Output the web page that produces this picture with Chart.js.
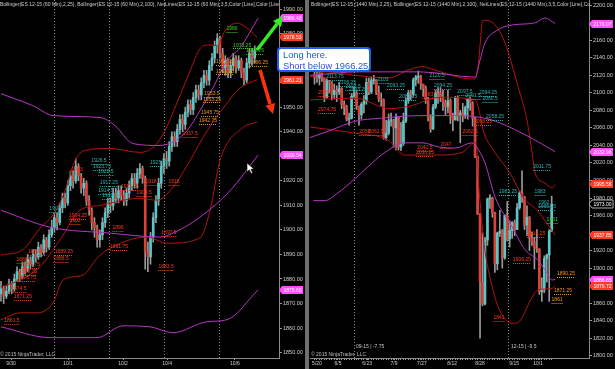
<!DOCTYPE html>
<html>
<head>
<meta charset="utf-8">
<title>ES 12-15 60 Min / 1440 Min</title>
<script src="https://cdn.jsdelivr.net/npm/chart.js@4.4.0/dist/chart.umd.min.js"></script>
<style>
  html, body { margin: 0; padding: 0; background: #000; }
  body { position: relative; width: 615px; height: 369px; overflow: hidden; font-family: "Liberation Sans", Arial, sans-serif; }
  canvas { position: absolute; top: 0; }
  #left { left: 0; }
  #right { left: 308px; }
  #divider { position: absolute; left: 305px; top: 0; width: 4px; height: 369px; background: #6f6f6f; }
  .hdr { position: absolute; top: 1px; width: 279px; overflow: hidden; white-space: nowrap; font-size: 5px; line-height: 6px; color: #cfcfcf; }
  .copy { position: absolute; top: 351px; font-size: 5px; line-height: 6px; color: #bdbdbd; white-space: nowrap; }
  #callout { position: absolute; left: 277px; top: 47px; width: 86px; height: 20px; padding: 1px 0 0 4px; background: #fff; border: 2px solid #1e5bf0; border-radius: 4px; color: #2456dc; font-size: 9.3px; line-height: 10.5px; white-space: nowrap; }
  #marks { position: absolute; left: 0; top: 0; }
</style>
</head>
<body>
<canvas id="left" width="305" height="369"></canvas>
<div id="divider"></div>
<canvas id="right" width="307" height="369"></canvas>

<div class="hdr" style="left:0">Bollinger(ES 12-15 (60 Min),2,25), Bollinger(ES 12-15 (60 Min),2,100), NetLines(ES 12-15 (60 Min),3,5,Color [Line],Color [Line])</div>
<div class="hdr" style="left:311px">Bollinger(ES 12-15 (1440 Min),2,25), Bollinger(ES 12-15 (1440 Min),2,100), NetLines(ES 12-15 (1440 Min),3,5,Color [Line],Color [Line])</div>
<div class="copy" style="left:0">© 2015 NinjaTrader, LLC</div>
<div class="copy" style="left:311px">© 2015 NinjaTrader, LLC</div>

<svg id="marks" width="615" height="369">
  <!-- flechas verde / roja -->
  <line x1="257" y1="50" x2="277" y2="24" stroke="#33ee22" stroke-width="3.5"/>
  <polygon points="283,16 281,27 273,21" fill="#33ee22"/>
  <line x1="260" y1="70" x2="270" y2="104" stroke="#ff3311" stroke-width="3.5"/>
  <polygon points="273,114 275,103 265.4,105.8" fill="#ff3311"/>
  <!-- puntero del ratón -->
  <polygon points="247,163 247,172 249.3,169.8 251,173.5 252.6,172.8 251,169.2 254,169" fill="#fff" stroke="#000" stroke-width="0.6"/>
</svg>
<div id="callout">Long here.<br>Short below 1966.25</div>

<script>
// --- 60 min (panel izquierdo) ---
const leftOpen0 = 1874;
const leftClose = [1876,1873,1875,1878,1876,1880,1883,1881,1885,1884,
  1888,1886,1890,1889,1893,1891,1896,1893,1898,1901,
  1905,1903,1909,1913,1911,1918,1922,1920,1926,1922,
  1917,1919,1912,1908,1903,1901,1896,1898,1903,1907,
  1911,1910,1915,1913,1916,1914,1912,1915,1918,1921,
  1919,1923,1925,1921,1891,1889,1897,1905,1912,1919,
  1926,1929,1928,1934,1938,1936,1941,1945,1943,1948,
  1951,1949,1954,1957,1955,1960,1963,1961,1967,1970,
  1975,1978,1972,1966,1969,1964,1967,1970,1966,1969,
  1964,1961,1968,1972,1970,1973];
const leftHigh = [1879,1877,1877,1880,1879,1882,1885,1884,1887,1887,
  1890,1889,1892,1892,1895,1894,1898,1897,1900,1904,
  1907,1907,1911,1915,1915,1920,1924,1924,1929,1927,
  1923,1921,1920,1914,1909,1905,1902,1900,1905,1909,
  1913,1913,1917,1917,1918,1918,1916,1917,1920,1923,
  1923,1925,1927,1926,1922,1895,1899,1907,1914,1921,
  1928,1931,1932,1936,1940,1940,1943,1947,1947,1950,
  1953,1953,1956,1959,1959,1962,1965,1965,1969,1972,
  1977,1980,1979,1974,1971,1970,1969,1972,1971,1971,
  1970,1966,1970,1974,1974,1975];
const leftLow = [1871,1870,1872,1874,1874,1875,1879,1879,1880,1882,
  1883,1884,1885,1887,1888,1889,1890,1891,1892,1897,
  1899,1900,1902,1907,1909,1910,1916,1917,1919,1920,
  1915,1914,1910,1906,1900,1897,1893,1893,1896,1901,
  1905,1907,1908,1911,1911,1912,1910,1910,1913,1916,
  1917,1917,1921,1919,1884,1883,1886,1895,1903,1910,
  1917,1923,1925,1926,1932,1934,1934,1939,1940,1941,
  1946,1947,1947,1952,1953,1953,1958,1959,1959,1965,
  1968,1972,1970,1964,1963,1962,1962,1965,1964,1965,
  1962,1959,1960,1966,1967,1968];
const leftDateLabels = ['9/30', '10/1', '10/2', '10/4', '10/6'];
const leftDateAt = [3.75, 25.1, 45.7, 62.2, 87.6];
const leftSessionBreaks = [19.85, 40.45, 61.05, 81.65];

// Bollinger(2,25) rojo y Bollinger(2,100) morado, puntos [barra, precio]
const leftRedUpper = [[0,1889.8],[8,1891.8],[14.6,1900.7],[20.2,1907.2],[24,1916],[27.7,1928.3],[31.5,1932.4],[40.8,1933.2],[52.1,1931.6],[57.7,1934.4],[61.4,1940.5],[67,1954.7],[70.8,1964.8],[74.5,1973.8],[78.3,1975.4],[80.9,1975],[83.9,1981.1],[88.4,1984.3],[92.1,1982.3],[95.9,1978.53]];
const leftRedMid = [[0,1876.8],[7.1,1879.6],[14.6,1885],[22.1,1896],[29.6,1908],[37.1,1910],[52.1,1912.9],[58.4,1912.1],[64.4,1917.4],[70.8,1928.3],[77.2,1940.5],[83.9,1950.6],[89.5,1957.9],[95.9,1961.21]];
const leftRedLower = [[0,1863.4],[7.1,1866.2],[13.5,1866.2],[19.5,1870.3],[23.2,1879.6],[30.7,1881.6],[36,1888.5],[39.7,1891.8],[54.7,1897.1],[62.2,1894.6],[74.5,1896.7],[78.3,1908],[82,1928.3],[90.6,1941.7],[95.9,1944]];
const leftPurpleUpper = [[0,1955.5],[12,1950.6],[19.5,1946.6],[37.1,1945.8],[42.7,1942.5],[49.4,1935.2],[59.6,1934.4],[65.2,1936.4],[69.7,1940.5],[74.5,1948.6],[79.4,1957.9],[84.6,1968.9],[89.5,1974.2],[96.3,1986.4]];
const leftPurpleMid = [[0,1908],[18.4,1901.1],[40.8,1898.7],[59.6,1897.1],[65.2,1899.1],[74.5,1905.2],[85.8,1916],[96.3,1930.54]];
const leftPurpleLower = [[0,1860.5],[18.4,1856.1],[36,1856.1],[45.7,1860.9],[55.8,1860.5],[64.4,1858.1],[77.2,1862.6],[84.6,1863.4],[96.3,1875.6]];

// NetLines: [texto, barra, precio, color]
const leftNotes = [
  ['1980',86.5,1981.9,'g'],['1973.25',90.3,1975.3,'g'],['1968.75',95.1,1972.9,'g'],
  ['1966.25',96.6,1968,'o'],['1962.75',83.9,1968.4,'o'],['1963.25',83.9,1964.7,'o'],
  ['1953.5',79,1955.4,'o'],['1953.25',79,1953.3,'o'],['1945.75',78.3,1947.6,'o'],['1942.75',77.5,1944.4,'o'],
  ['1937.5',70.8,1939.1,'r'],['1926.5',36.7,1928.1,'t'],['1923.75',37.8,1925.6,'t'],['1922.5',39.3,1923.6,'t'],
  ['1923',28.5,1924.4,'r'],['1925.75',59.2,1927.3,'t'],['1917.25',40.4,1919.1,'t'],['1915.25',48.3,1917.5,'r'],
  ['1914.5',39.3,1915.9,'t'],['1912.5',40.8,1913.8,'t'],['1918',56.2,1919.5,'r'],['1918',64.8,1919.5,'r'],
  ['1909.5',53.6,1915.1,'r'],['1907',20.2,1908.5,'t'],['1904.25',28.8,1905.7,'r'],['1902',27.7,1903.6,'r'],
  ['1899',43.8,1900.8,'r'],['1897.5',62.9,1898.8,'r'],['1891.75',44.2,1893.1,'r'],['1889.25',13.5,1891,'r'],
  ['1889.25',23.6,1891,'r'],['1886.5',22.5,1888.2,'r'],['1888',7.9,1887.8,'r'],['1883.75',11.2,1885.7,'r'],
  ['1883.25',10.1,1882.9,'r'],['1878.75',9.7,1880.4,'r'],['1883.5',61.8,1884.9,'r'],['1874.5',6.7,1875.9,'r'],
  ['1871.25',8.2,1872.7,'r'],['1861.5',4.1,1862.9,'r']
];

// --- 1440 min (panel derecho) ---
const rightOpen0 = 2121;
const rightClose = [2118,2117,2122,2117,2095,2114,2112,2098,2103,2101,
  2105,2087,2084,2070,2071,2096,2100,2085,2075,2087,
  2091,2112,2101,2114,2115,2100,2093,2092,2049,2054,
  2068,2068,2060,2072,2038,2042,2068,2091,2100,2098,
  2115,2118,2119,2110,2105,2093,2071,2059,2084,2100,
  2100,2095,2089,2084,2091,2075,2069,2095,2075,2077,
  2074,2083,2093,2088,2071,2027,1962,1884,1859,1932,
  1979,1980,1963,1905,1940,1942,1912,1960,1933,1943,
  1952,1944,1969,1986,1981,1949,1958,1934,1930,1923,
  1922,1873,1875,1911,1915,1942,1973];
const rightHigh = [2125,2124,2124,2123,2117,2116,2114,2113,2110,2108,
  2112,2106,2091,2086,2077,2099,2106,2102,2085,2089,
  2097,2117,2117,2118,2120,2115,2108,2100,2093,2069,
  2076,2077,2070,2076,2073,2066,2077,2094,2103,2103,
  2117,2120,2125,2120,2110,2108,2095,2075,2087,2103,
  2106,2106,2103,2092,2103,2093,2077,2096,2096,2080,
  2088,2085,2094,2095,2090,2072,2028,1962,1940,1935,
  1980,1984,1981,1964,1941,1966,1944,1961,1976,1954,
  1953,1955,1974,1988,2011,1982,1971,1959,1941,1935,
  1944,1922,1889,1914,1916,1944,1982];
const rightLow = [2110,2112,2109,2113,2090,2094,2100,2092,2093,2090,
  2098,2082,2075,2068,2063,2070,2094,2081,2063,2070,
  2077,2087,2098,2099,2110,2098,2090,2085,2047,2046,
  2052,2062,2038,2035,2035,2034,2040,2066,2088,2092,
  2096,2108,2111,2104,2096,2088,2068,2055,2058,2082,
  2088,2090,2080,2075,2077,2065,2057,2069,2068,2043,
  2067,2071,2070,2080,2062,2026,1961,1820,1857,1858,
  1926,1968,1958,1895,1898,1936,1900,1910,1931,1924,
  1934,1937,1944,1967,1975,1944,1937,1920,1926,1899,
  1918,1870,1862,1872,1884,1862,1942];
const rightDateLabels = ['5/20', '6/5', '6/23', '7/9', '7/27', '8/12', '8/28', '9/15', '10/1'];
const rightDateAt = [1.0, 9.5, 21.3, 32.2, 43.5, 55.7, 67.0, 80.8, 90.5];
const rightSessionBreaks = [16.0, 78.7];
const rightRollovers = [['09-15 | -7.75', 16.0], ['12-15 | -9.5', 78.7]];

const rightRedUpper = [[-1.8,2118],[4.25,2124],[16.4,2120],[29.8,2117],[37.9,2126],[43.5,2130],[48.8,2126],[55.7,2120],[62.1,2116],[65,2116],[66.2,2130],[68.2,2183],[73.1,2177.5],[77.1,2157],[82.4,2107],[86,2069],[88.1,2031],[89.3,2008.5],[93.3,1997],[96.2,1991.5],[97.4,1995.58]];
const rightRedMid = [[-1.8,2092],[16.4,2094],[30.6,2082],[38.7,2085],[50.8,2095],[65,2092],[67,2075],[68.2,2058],[72.3,2035],[79.1,2008.5],[84.4,1981],[90.1,1966],[94.1,1951],[97.4,1937.85]];
const rightRedLower = [[-1.8,2061],[16.4,2054],[29.8,2046],[36.6,2029],[50,2029],[59.7,2032],[65,2043],[65.6,2040],[66.6,1990],[69,1920],[71,1890],[74.3,1856],[80,1837],[82.4,1838],[88.1,1867],[90.5,1875],[96.2,1877],[97.4,1879.72]];
const rightPurpleUpper = [[-1.8,2120],[18.4,2124],[42.7,2124],[65,2118],[67,2137.6],[69,2157],[74.3,2172],[80,2177.5],[89.3,2180],[93.3,2185.5],[97.4,2179.07]];
const rightPurpleMid = [[-1.8,2049],[6.3,2057],[16.4,2067.6],[26.5,2071],[42.7,2074],[58.9,2074],[67,2072],[71.9,2069],[84,2054],[97.4,2032.96]];
const rightPurpleLower = [[-0.5,1977],[4.25,1977],[9.5,1986],[16.4,2002],[23.3,2020],[28.5,2032],[36.6,2043],[43.5,2043],[50.8,2038],[56.9,2037],[63.8,2043],[65,2040.5],[69,2020],[73.1,1981],[80,1947],[85.2,1921],[90.5,1909],[93.3,1898],[96.2,1886.5],[97.4,1886.85]];

const rightNotes = [
  ['2113.75',8.3,2118.2,'t'],['2106.25',13.2,2111.3,'t'],['2103.5',15.6,2106.7,'t'],['2093.25',17.6,2103.3,'t'],
  ['2085',3.8,2099.9,'r'],['2074.75',5.1,2080.5,'r'],['2103',27.7,2114.7,'t'],['2093.25',33,2107.9,'t'],
  ['2081.25',37.9,2095.3,'t'],['2120.5',49.6,2119.3,'t'],['2094.25',52,2107.9,'t'],['2083.75',47.2,2097.6,'r'],
  ['2097.5',60.9,2101,'t'],['2091.5',64.2,2096.5,'t'],['2094.25',70.2,2099.9,'t'],['2080.5',71.1,2093,'t'],
  ['2058.25',73.1,2072.4,'t'],['2058',20.4,2055.3,'r'],['2062.5',24.9,2055.3,'r'],['2042.5',44.7,2037.1,'r'],
  ['2036.25',44.7,2031.4,'r'],['2047',53.2,2040.6,'r'],['2062.5',63,2055.3,'r'],['2068.25',68.2,2066.8,'r'],
  ['2011.75',92.1,2015.4,'t'],['1983.25',78.3,1986.9,'t'],['1983',91.3,1986.9,'t'],['1962',92.9,1974.4,'t'],
  ['1965.25',94.1,1969.8,'t'],['1951',96.2,1954.9,'g'],['1916.25',89.7,1938.9,'r'],['1906.25',84,1909.2,'r'],
  ['1890.25',101.8,1893.2,'o'],['1871.25',100.6,1873.8,'o'],['1861',98.2,1863.6,'o'],['1841',74.7,1843,'r']
];

// colores estilo NinjaTrader
const UP = '#5cc6c6';
const DOWN = '#d9443a';
const WICK = '#9a9a9a';
const RED_BAND = '#b3140f';
const PURPLE_BAND = '#b735c4';
const NOTE_COLORS = { t: '#2fb3b3', r: '#ff3b1f', o: '#ee9420', g: '#3ad42c' };
const FONT = '"Liberation Sans", Arial, sans-serif';

Chart.defaults.font.family = FONT;

function netLinesPlugin(notes, rollovers) {
  return {
    id: 'netlines',
    afterDatasetsDraw(chart) {
      const { ctx, chartArea, scales: { x, y } } = chart;
      ctx.save();
      ctx.font = '5px ' + FONT;
      ctx.textAlign = 'center';
      ctx.textBaseline = 'middle';
      ctx.lineWidth = 1;
      notes.forEach(([txt, xi, p, c]) => {
        const px = x.getPixelForValue(xi);
        const py = y.getPixelForValue(p);
        const w = ctx.measureText(txt).width;
        ctx.fillStyle = NOTE_COLORS[c];
        ctx.fillText(txt, px, py);
        // subrayado punteado
        const uy = Math.round(py + 3) + 0.5;
        ctx.strokeStyle = NOTE_COLORS[c];
        ctx.setLineDash([1, 1]);
        ctx.beginPath();
        ctx.moveTo(px - w / 2, uy);
        ctx.lineTo(px + w / 2, uy);
        ctx.stroke();
      });
      ctx.setLineDash([]);
      ctx.textAlign = 'left';
      ctx.fillStyle = '#c8c8c8';
      rollovers.forEach(([txt, xi]) => {
        ctx.fillText(txt, x.getPixelForValue(xi) + 2, chartArea.bottom - 11);
      });
      ctx.restore();
    }
  };
}

function flagsPlugin(flags) {
  return {
    id: 'flags',
    afterDraw(chart) {
      const { ctx, chartArea, scales: { y } } = chart;
      const x0 = chartArea.right;
      ctx.save();
      ctx.font = '5px ' + FONT;
      ctx.textAlign = 'center';
      ctx.textBaseline = 'middle';
      flags.forEach(f => {
        const py = Math.round(y.getPixelForValue(f.v));
        ctx.beginPath();
        ctx.moveTo(x0, py);
        ctx.lineTo(x0 + 3, py - 4);
        ctx.lineTo(x0 + 24, py - 4);
        ctx.lineTo(x0 + 24, py + 4);
        ctx.lineTo(x0 + 3, py + 4);
        ctx.closePath();
        ctx.fillStyle = f.bg;
        ctx.fill();
        if (f.border) {
          ctx.strokeStyle = f.border;
          ctx.lineWidth = 1;
          ctx.stroke();
        }
        ctx.fillStyle = f.fg;
        ctx.fillText(f.v.toFixed(2), x0 + 13.5, py + 0.5);
      });
      ctx.restore();
    }
  };
}

function buildChart(id, o) {
  const open = o.close.map((c, i) => (i === 0 ? o.open0 : o.close[i - 1]));
  const isUp = o.close.map((c, i) => c >= open[i]);

  const datasets = [
    {
      type: 'bar', xAxisID: 'x', yAxisID: 'y',
      data: o.close.map((c, i) => ({ x: i, y: [o.low[i], o.high[i]] })),
      backgroundColor: WICK, barThickness: 1, grouped: false, order: 3
    },
    {
      type: 'bar', xAxisID: 'x', yAxisID: 'y',
      data: o.close.map((c, i) => ({ x: i, y: [Math.min(open[i], c), Math.max(open[i], c)] })),
      backgroundColor: isUp.map(u => (u ? UP : DOWN)), barThickness: 2, minBarLength: 1, grouped: false, order: 2
    }
  ];
  o.bands.forEach(b => datasets.push({
    type: 'line', xAxisID: 'x', yAxisID: 'y',
    data: b.pts.map(([x, y]) => ({ x, y })),
    borderColor: b.color, borderWidth: 1, pointRadius: 0,
    cubicInterpolationMode: 'monotone', order: 1
  }));

  const flags = o.bands.filter(b => b.flag).map(b => ({ v: b.pts[b.pts.length - 1][1], bg: b.flag, fg: '#fff' }));
  if (o.lastFlag) flags.push({ v: o.close[o.close.length - 1], bg: '#000', fg: '#fff', border: '#b0b0b0' });

  const xTicks = o.dateAt.map((v, j) => ({ value: v, lbl: o.dateLabels[j] }));
  if (o.barTicks) o.close.forEach((c, i) => xTicks.push({ value: i, lbl: '' }));
  xTicks.sort((a, b) => a.value - b.value);

  return new Chart(document.getElementById(id), {
    type: 'bar',
    data: { datasets },
    options: {
      responsive: false,
      devicePixelRatio: 1,
      animation: false,
      events: [],
      layout: { padding: { left: o.padLeft, top: 0, right: 0, bottom: 0 } },
      plugins: { legend: { display: false }, tooltip: { enabled: false } },
      scales: {
        x: {
          type: 'linear', position: 'bottom', min: o.xMin, max: o.xMax, offset: false,
          grid: { offset: false, drawOnChartArea: false, color: '#9a9a9a', tickLength: 2 },
          border: { color: '#8a8a8a' },
          afterBuildTicks: s => { s.ticks = xTicks.map(t => ({ value: t.value, lbl: t.lbl })); },
          ticks: {
            autoSkip: false, maxRotation: 0, padding: 1, color: '#cfcfcf', font: { size: 5 },
            callback: (v, i, ticks) => ticks[i].lbl
          },
          afterFit: s => { s.height = 11; s.paddingLeft = 0; s.paddingRight = 0; }
        },
        xs: {
          type: 'linear', position: 'bottom', min: o.xMin, max: o.xMax, offset: false,
          ticks: { display: false },
          grid: { offset: false, color: '#8a8a8a', lineWidth: 1, drawTicks: false },
          border: { display: false, dash: [1, 2] },
          afterBuildTicks: s => { s.ticks = o.breaks.map(v => ({ value: v })); },
          afterFit: s => { s.height = 0; s.paddingLeft = 0; s.paddingRight = 0; }
        },
        y: {
          position: 'right', min: o.yMin, max: o.yMax, beginAtZero: false,
          grid: { drawOnChartArea: false, color: '#9a9a9a', tickLength: 3 },
          border: { color: '#8a8a8a' },
          ticks: {
            stepSize: o.yStep, includeBounds: false, padding: 1, color: '#cfcfcf', font: { size: 5.5 },
            callback: v => Number(v).toFixed(2)
          },
          afterFit: s => { s.width = 26; s.paddingTop = 0; s.paddingBottom = 0; }
        }
      }
    },
    plugins: [netLinesPlugin(o.notes, o.rollovers), flagsPlugin(flags)]
  });
}

buildChart('left', {
  open0: leftOpen0, close: leftClose, high: leftHigh, low: leftLow,
  dateLabels: leftDateLabels, dateAt: leftDateAt, breaks: leftSessionBreaks, barTicks: false,
  notes: leftNotes, rollovers: [], lastFlag: false,
  xMin: -0.37, xMax: 104.1, yMin: 1847.8, yMax: 1993.7, yStep: 10, padLeft: 0,
  bands: [
    { pts: leftPurpleUpper, color: PURPLE_BAND, flag: '#ff4dff' },
    { pts: leftPurpleMid, color: PURPLE_BAND, flag: '#ff4dff' },
    { pts: leftPurpleLower, color: PURPLE_BAND, flag: '#ff4dff' },
    { pts: leftRedUpper, color: RED_BAND, flag: '#ff3b22' },
    { pts: leftRedMid, color: RED_BAND, flag: '#ff3b22' },
    { pts: leftRedLower, color: RED_BAND, flag: null }
  ]
});

buildChart('right', {
  open0: rightOpen0, close: rightClose, high: rightHigh, low: rightLow,
  dateLabels: rightDateLabels, dateAt: rightDateAt, breaks: rightSessionBreaks, barTicks: true,
  notes: rightNotes, rollovers: rightRollovers, lastFlag: true,
  xMin: -1.82, xMax: 111.1, yMin: 1797.4, yMax: 2206, yStep: 20, padLeft: 2,
  bands: [
    { pts: rightPurpleUpper, color: PURPLE_BAND, flag: '#ff4dff' },
    { pts: rightPurpleMid, color: PURPLE_BAND, flag: '#ff4dff' },
    { pts: rightPurpleLower, color: PURPLE_BAND, flag: '#ff4dff' },
    { pts: rightRedUpper, color: RED_BAND, flag: '#ff3b22' },
    { pts: rightRedMid, color: RED_BAND, flag: '#ff3b22' },
    { pts: rightRedLower, color: RED_BAND, flag: '#ff3b22' }
  ]
});
</script>
</body>
</html>
